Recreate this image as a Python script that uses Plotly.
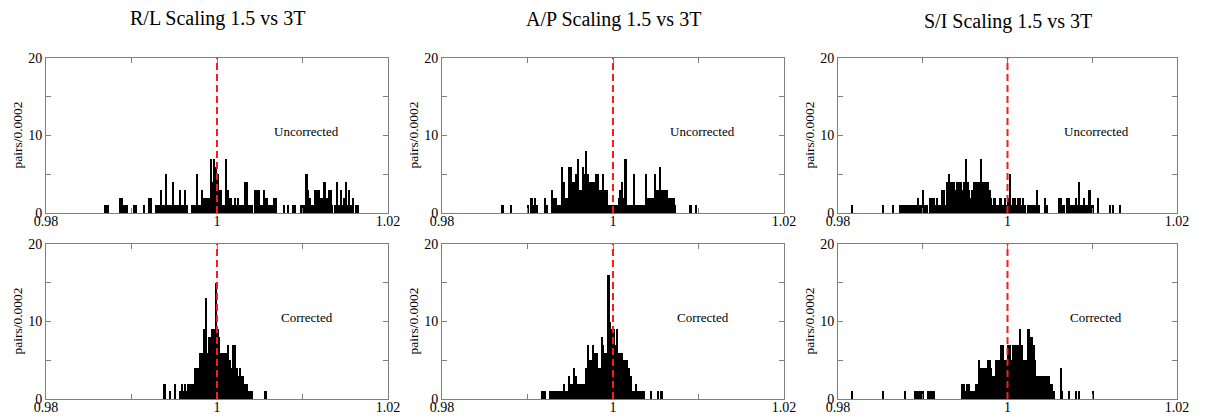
import plotly.graph_objects as go

W, H = 1206, 418
PAGE_PAD = 8  # default body margin of the html page
FW, FH = W - PAGE_PAD, H - PAGE_PAD
BIN = 0.0002
X_RANGE = [0.98, 1.02]
Y_RANGE = [0, 20]
REF_X = 1.0

col_titles = ["R/L Scaling 1.5 vs 3T", "A/P Scaling 1.5 vs 3T", "S/I Scaling 1.5 vs 3T"]
row_labels = ["Uncorrected", "Corrected"]
y_label = "pairs/0.0002"
x_tickvals = [0.98, 0.99, 1.0, 1.01, 1.02]
x_ticktext = ["0.98", "", "1", "", "1.02"]
y_tickvals = [0, 5, 10, 15, 20]
y_ticktext = ["0", "", "10", "", "20"]

# counts per 0.0002 bin, starting at the left edge given by *_start
rl_unc_start = 0.9860
rl_unc = [0, 0, 0, 0, 1, 1, 1, 0, 0, 0,
          0, 0, 0, 2, 2, 1, 1, 1, 0, 0,
          0, 1, 1, 0, 0, 0, 0, 1, 0, 0,
          2, 2, 0, 0, 1, 1, 1, 3, 1, 1,
          5, 1, 1, 1, 4, 1, 1, 1, 3, 1,
          1, 3, 1, 0, 0, 1, 1, 1, 5, 1,
          1, 3, 2, 2, 2, 2, 7, 4, 7, 6,
          5, 3, 3, 1, 1, 7, 3, 2, 2, 1,
          2, 1, 2, 1, 1, 1, 4, 4, 1, 1,
          1, 0, 3, 3, 3, 1, 1, 3, 2, 2,
          1, 1, 1, 2, 2, 0, 0, 0, 0, 1,
          0, 1, 0, 0, 1, 1, 0, 0, 0, 1,
          1, 1, 5, 3, 2, 1, 1, 3, 3, 3,
          2, 2, 4, 4, 2, 3, 3, 1, 0, 1,
          4, 1, 3, 1, 2, 4, 1, 3, 1, 2,
          0, 1, 1]

rl_cor_start = 0.9920
rl_cor = [0, 0, 0, 0, 0, 0, 0, 0, 0, 2,
          0, 0, 1, 0, 0, 2, 0, 0, 1, 2,
          1, 2, 1, 2, 2, 2, 2, 4, 4, 4,
          6, 6, 9, 13, 6, 8, 8, 9, 9, 15,
          9, 8, 6, 6, 6, 6, 7, 5, 4, 7,
          7, 4, 3, 4, 3, 3, 2, 2, 1, 1,
          1, 0, 0, 0, 0, 0, 0, 0, 1]

ap_unc_start = 0.9860
ap_unc = [0, 0, 0, 0, 0, 1, 0, 0, 0, 0,
          1, 0, 0, 0, 0, 0, 0, 0, 0, 0,
          1, 0, 2, 1, 2, 1, 0, 0, 0, 0,
          2, 1, 0, 0, 3, 2, 2, 1, 1, 1,
          6, 4, 2, 2, 6, 6, 4, 4, 5, 7,
          3, 3, 6, 5, 8, 5, 4, 4, 4, 4,
          5, 5, 3, 3, 5, 3, 3, 1, 1, 1,
          1, 1, 1, 2, 3, 4, 2, 7, 1, 1,
          1, 1, 5, 1, 1, 1, 1, 1, 1, 5,
          2, 2, 2, 2, 5, 3, 3, 6, 3, 3,
          3, 3, 2, 2, 2, 2, 1, 0, 0, 0,
          0, 0, 0, 0, 0, 1, 0, 0, 1]

ap_cor_start = 0.9912
ap_cor = [0, 0, 1, 1,
          1, 0, 0, 1, 1, 1, 1, 1, 1, 1,
          1, 2, 1, 1, 3, 2, 2, 4, 3, 2,
          2, 2, 2, 2, 4, 7, 5, 5, 7, 6,
          6, 4, 4, 8, 7, 6, 6, 16, 10, 9,
          9, 7, 9, 6, 6, 6, 5, 5, 5, 4,
          3, 1, 1, 2, 1, 1, 1, 1, 1, 0,
          0, 0, 1, 0, 0, 0, 1, 0, 1]

si_unc_start = 0.9800
si_unc = [0, 0, 0, 0, 0, 0, 0, 0, 1, 0,
          0, 0, 0, 0, 0, 0, 0, 0, 0, 0,
          0, 0, 0, 0, 0, 0, 1, 0, 0, 0,
          0, 0, 1, 0, 0, 0, 1, 1, 1, 1,
          1, 1, 1, 1, 1, 1, 1, 2, 1, 1,
          3, 1, 1, 0, 2, 2, 2, 1, 2, 1,
          1, 3, 3, 1, 4, 5, 4, 4, 4, 3,
          4, 4, 4, 3, 4, 7, 4, 3, 2, 3,
          4, 4, 4, 4, 7, 4, 4, 4, 4, 3,
          2, 1, 2, 1, 1, 2, 2, 1, 2, 1,
          2, 5, 1, 2, 2, 1, 2, 2, 1, 2,
          1, 0, 1, 1, 1, 1, 1, 3, 1, 0,
          0, 0, 2, 1, 0, 0, 0, 0, 0, 0,
          2, 2, 1, 1, 0, 2, 2, 1, 1, 1,
          2, 1, 4, 1, 1, 2, 1, 1, 3, 1,
          1, 0, 0, 2, 0, 0, 0, 0, 0, 0,
          1, 0, 1, 0, 0, 0, 1]

si_cor_start = 0.9800
si_cor = [0, 0, 0, 0, 0, 0, 0, 0, 1, 0,
          0, 0, 0, 0, 0, 0, 0, 0, 0, 0,
          0, 0, 0, 0, 0, 0, 1, 0, 0, 0,
          0, 0, 0, 0, 0, 0, 0, 0, 0, 1,
          0, 0, 0, 0, 0, 1, 1, 1, 1, 1,
          1, 0, 0, 1, 1, 1, 1, 0, 0, 0,
          0, 0, 0, 0, 0, 0, 0, 0, 0, 0,
          0, 0, 0, 2, 2, 1, 2, 2, 1, 1,
          1, 2, 2, 5, 4, 4, 4, 4, 5, 5,
          4, 3, 3, 5, 5, 5, 7, 7, 5, 5,
          7, 7, 5, 7, 7, 7, 7, 9, 7, 5,
          5, 5, 9, 8, 8, 7, 5, 3, 3, 3,
          3, 3, 3, 3, 3, 2, 2, 1, 0, 0,
          0, 4, 1, 0, 0, 0, 1, 0, 0, 0,
          1, 0, 1, 0, 0, 0, 0, 0, 0, 0,
          1]

panels = [
    (0, 0, rl_unc_start, rl_unc), (0, 1, ap_unc_start, ap_unc), (0, 2, si_unc_start, si_unc),
    (1, 0, rl_cor_start, rl_cor), (1, 1, ap_cor_start, ap_cor), (1, 2, si_cor_start, si_cor),
]

# pixel frames of the plot boxes, in page pixels
col_px = [(46, 388), (442, 784), (838, 1177)]
row_px = [(58, 213), (244, 399)]


def px_x(p):
    return (p - PAGE_PAD) / FW


def px_y(p):
    return 1 - (p - PAGE_PAD) / FH


SERIF = "Liberation Serif, Times New Roman, serif"
FRAME = "#7f7f7f"

fig = go.Figure()
layout = {}
annotations = []
shapes = []

for i, (r, c, start, counts) in enumerate(panels):
    n = i + 1
    xa = "x" if n == 1 else f"x{n}"
    ya = "y" if n == 1 else f"y{n}"
    fig.add_trace(go.Bar(
        x0=start + BIN / 2, dx=BIN, y=counts, width=BIN,
        marker=dict(color="black", line=dict(width=0)),
        xaxis=xa, yaxis=ya, hoverinfo="skip", showlegend=False,
    ))
    x0, x1 = col_px[c]
    top, bot = row_px[r]
    common = dict(
        showline=True, linecolor=FRAME, linewidth=1, mirror="ticks",
        ticks="inside", ticklen=5, tickcolor=FRAME, tickwidth=1,
        showgrid=False, zeroline=False, automargin=False,
        tickfont=dict(family=SERIF, size=14, color="black"),
    )
    layout[f"xaxis{'' if n == 1 else n}"] = dict(
        domain=[px_x(x0), px_x(x1)], range=X_RANGE, anchor=ya,
        tickmode="array", tickvals=x_tickvals, ticktext=x_ticktext,
        ticklabelstandoff=-5, **common)
    layout[f"yaxis{'' if n == 1 else n}"] = dict(
        domain=[px_y(bot), px_y(top)], range=Y_RANGE, anchor=xa,
        tickmode="array", tickvals=y_tickvals, ticktext=y_ticktext, **common)

    shapes.append(dict(type="line", xref=xa, yref=ya, x0=REF_X, x1=REF_X,
                       y0=Y_RANGE[0], y1=Y_RANGE[1],
                       line=dict(color="#ff1a1a", width=2, dash="7px,4px")))
    annotations.append(dict(xref=xa, yref=ya, x=1.0105, y=10.5,
                            text=row_labels[r], showarrow=False,
                            font=dict(family=SERIF, size=13, color="black")))
    annotations.append(dict(xref="paper", yref="paper", x=px_x(x0 - 29),
                            y=px_y((top + bot) / 2), text=y_label, textangle=-90,
                            showarrow=False, xanchor="center", yanchor="middle",
                            font=dict(family=SERIF, size=13.5, color="black")))

title_y = [18, 19, 21]
for c, t in enumerate(col_titles):
    x0, x1 = col_px[c]
    annotations.append(dict(xref="paper", yref="paper", x=px_x((x0 + x1) / 2),
                            y=px_y(title_y[c]), text=t, showarrow=False,
                            xanchor="center", yanchor="middle",
                            font=dict(family=SERIF, size=20, color="black")))

fig.update_layout(
    width=FW, height=FH,
    margin=dict(l=0, r=0, t=0, b=0, pad=0, autoexpand=False),
    paper_bgcolor="white", plot_bgcolor="white",
    bargap=0, barmode="overlay",
    annotations=annotations, shapes=shapes,
    **layout,
)

fig.write_html("out.html")
